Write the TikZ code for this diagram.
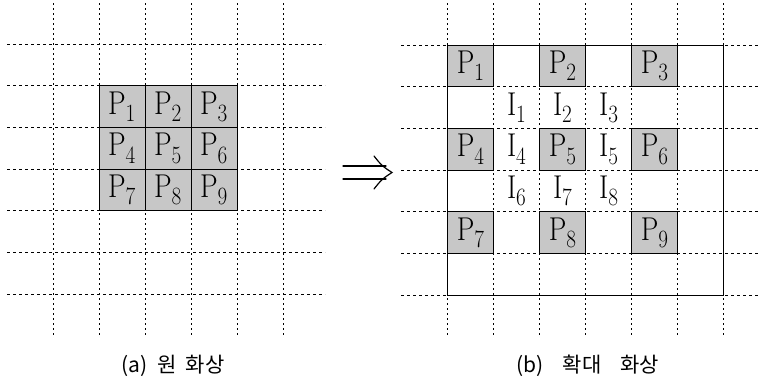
\documentclass[tikz,border=0pt]{standalone}
\usepackage{fontspec}
\newfontfamily\kr{Noto Sans CJK KR}
\newcommand\plab[2]{\scalebox{0.85}[1]{$\mathrm{#1}_{#2}$}}
\begin{document}
\begin{tikzpicture}[x=1pt,y=-1pt,
  hgrid/.style={line width=0.7pt, dash pattern=on 3pt off 3pt, black},
  vgrid/.style={line width=0.7pt, dash pattern=on 1.5pt off 3.5pt, black},
  cellbox/.style={draw=black, line width=1pt, fill=black!22},
  frame/.style={draw=black, line width=1pt},
  lab/.style={font=\fontsize{33}{34}\selectfont, inner sep=0pt},
  captext/.style={font=\kr\fontsize{21}{24}\selectfont, inner sep=0pt},
  arrowline/.style={line width=1.2pt, line cap=round}]
\useasboundingbox (0,0) rectangle (759,386);
% ---------- left grid ----------
\foreach \i in {0,...,6} \draw[hgrid] (7,{44+41.67*\i}) -- (325,{44+41.67*\i});
\foreach \i in {0,...,5} \draw[vgrid] ({53+46*\i},3) -- ({53+46*\i},337);
\foreach \r in {0,1,2} {
  \foreach \c in {0,1,2} {
    \pgfmathtruncatemacro\n{\r*3+\c+1}
    \draw[cellbox] ({99+46*\c},{85.67+41.67*\r}) rectangle +(46,41.67);
    \node[lab] (lp\n) at ({99+46*\c+23},{85.67+41.67*\r+20.8}) {\plab{P}{\n}};
  }
}
% ---------- arrow ----------
\draw[arrowline] (343,166) -- (386,166);
\draw[arrowline] (343,179) -- (386,179);
\draw[arrowline] (374,156) .. controls (382,166) .. (392,172.5) .. controls (382,179) .. (374,189);
% ---------- right grid ----------
\foreach \i in {0,...,6} \draw[hgrid] (401,{45+41.67*\i}) -- (759,{45+41.67*\i});
\foreach \i in {0,...,6} \draw[vgrid] ({447.7+46*\i},3) -- ({447.7+46*\i},337);
\draw[frame] (447.7,45) rectangle (723.7,295);
\foreach \r in {0,1,2} {
  \foreach \c in {0,1,2} {
    \pgfmathtruncatemacro\n{\r*3+\c+1}
    \draw[cellbox] ({447.7+92*\c},{45+83.33*\r}) rectangle +(46,41.67);
    \node[lab] (rp\n) at ({447.7+92*\c+23},{45+83.33*\r+20.8}) {\plab{P}{\n}};
  }
}
\node[lab] (i1) at ({447.7+46*1+23},{45+41.67*1+20.8}) {\plab{I}{1}};
\node[lab] (i2) at ({447.7+46*2+23},{45+41.67*1+20.8}) {\plab{I}{2}};
\node[lab] (i3) at ({447.7+46*3+23},{45+41.67*1+20.8}) {\plab{I}{3}};
\node[lab] (i4) at ({447.7+46*1+23},{45+41.67*2+20.8}) {\plab{I}{4}};
\node[lab] (i5) at ({447.7+46*3+23},{45+41.67*2+20.8}) {\plab{I}{5}};
\node[lab] (i6) at ({447.7+46*1+23},{45+41.67*3+20.8}) {\plab{I}{6}};
\node[lab] (i7) at ({447.7+46*2+23},{45+41.67*3+20.8}) {\plab{I}{7}};
\node[lab] (i8) at ({447.7+46*3+23},{45+41.67*3+20.8}) {\plab{I}{8}};
% ---------- captions ----------
\node[captext] (ca) at (173,366) {(a)\hspace{0.45em}원\hspace{0.45em}화상};
\node[captext] (cb) at (588,366) {(b)\hspace{0.9em}확대\hspace{0.9em}화상};
\end{tikzpicture}
\end{document}
